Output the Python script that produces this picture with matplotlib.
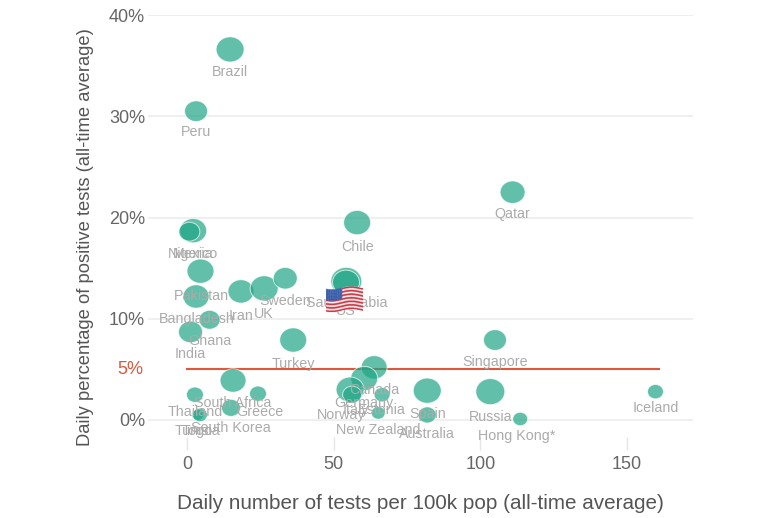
import matplotlib
matplotlib.use("Agg")
import numpy as np
import matplotlib.pyplot as plt
from matplotlib.path import Path
from matplotlib.transforms import Affine2D

plt.rcParams['font.family'] = ['Liberation Sans', 'DejaVu Sans']

# tests per 100k, percent positive, bubble width (px), label position
names = ["Brazil", "Peru", "Qatar", "Chile", "Mexico", "Nigeria", "Pakistan", "Bangladesh",
         "Iran", "UK", "Sweden", "Saudi Arabia", "US", "Ghana", "India", "Turkey", "Singapore",
         "Canada", "Germany", "Italy", "Norway", "Estonia", "New Zealand", "Spain", "Australia",
         "Russia", "Hong Kong*", "Iceland", "South Africa", "Greece", "Thailand", "South Korea",
         "Togo", "Tunisia"]
tests = [14.7, 3.1, 111, 58, 2.1, 0.8, 4.6, 3.1,
         18.4, 26.3, 33.5, 54.3, 54.2, 7.7, 1.2, 36.2, 105,
         63.8, 60.4, 55.6, 56.3, 66.5, 65.2, 81.9, 81.9,
         103.4, 113.6, 159.7, 15.7, 24.2, 2.7, 15.0,
         3.6, 4.4]
positive = [36.6, 30.5, 22.5, 19.5, 18.7, 18.6, 14.7, 12.2,
            12.7, 13.0, 14.0, 13.7, 13.6, 9.9, 8.7, 7.9, 7.9,
            5.2, 4.1, 3.0, 2.5, 2.5, 0.7, 2.9, 0.5,
            2.8, 0.1, 2.8, 3.9, 2.6, 2.5, 1.2,
            0.5, 0.5]
sizes = [28, 23, 25, 27, 27, 21, 27, 26,
         26, 28, 24, 31, 27, 21, 24, 27, 23,
         26, 27, 28, 19, 16, 14, 28, 18,
         29, 15, 16, 26, 17, 17, 19,
         12, 15]
label_x = [14.7, 3.1, 111, 58, 3.0, 1.2, 4.8, 3.3,
           18.4, 26.3, 33.5, 54.5, 54.2, 7.9, 1.2, 36.2, 105,
           63.8, 60.4, 57.5, 52.5, 66.5, 65.2, 81.9, 81.9,
           103.4, 112.5, 159.7, 15.7, 25, 2.7, 15.0,
           3.6, 3.6]
label_y = [34.35, 28.4, 20.3, 17.1, 16.4, 16.4, 12.2, 10.0,
           10.3, 10.5, 11.8, 11.55, 10.8, 7.8, 6.55, 5.5, 5.7,
           3.0, 1.65, 0.95, 0.5, 1.0, -1.0, 0.6, -1.4,
           0.25, -1.6, 1.15, 1.65, 0.8, 0.8, -0.8,
           -1.1, -1.1]

threshold_x = [0, 161]
threshold_y = [5, 5]
x_ticks = [0, 50, 100, 150]
y_ticks = [0, 10, 20, 30, 40]

W, H = 768, 518
fig = plt.figure(figsize=(W / 100, H / 100), dpi=100)
# axes placed by pixels: x 0 at 187, 150 at 627; y 0% at 420, 40% at 15
px_per_x = (627 - 187) / 150
px_per_y = (420 - 15) / 40
left, right, top, bottom = 148, 693, 15, 450
ax = fig.add_axes([left / W, 1 - bottom / H, (right - left) / W, (bottom - top) / H])
ax.set_xlim((left - 187) / px_per_x, (right - 187) / px_per_x)
ax.set_ylim((420 - bottom) / px_per_y, 40)

for s in ax.spines.values():
    s.set_visible(False)
ax.set_yticks(y_ticks)
ax.set_yticklabels(["%d%%" % v for v in y_ticks], fontsize=13, color="#666666")
ax.set_xticks(x_ticks)
ax.set_xticklabels(x_ticks, fontsize=13, color="#666666")
ax.tick_params(axis="y", length=0, pad=2)
ax.tick_params(axis="x", direction="in", length=9.4, width=1, color="#e6e6e6", pad=4)
ax.grid(True, axis="y", color="#efefef", linewidth=1.4)
ax.set_axisbelow(True)

# the red 5% line and its own tick label
ax.plot(threshold_x, threshold_y, color="#e0573a", linewidth=1.5, zorder=2)
ax.annotate("5%", (0, 5), xycoords=("axes fraction", "data"), xytext=(-3.6, 0),
            textcoords="offset points", ha="right", va="center", fontsize=13, color="#d9583b")

# bubbles are a little wider than tall in the original
oval = Path.unit_circle().transformed(Affine2D().scale(1.0, 0.9))
d = np.array(sizes) * 0.72
ax.scatter(tests, positive, s=d ** 2, marker=oval, color="#1fa686", alpha=0.7, edgecolor="white",
           linewidth=0.7, zorder=3)

for name, lx, ly in zip(names, label_x, label_y):
    ax.text(lx, ly, name, ha="center", va="center", fontsize=10.3, color="#ababab", zorder=4)

ax.set_xlabel("Daily number of tests per 100k pop (all-time average)", fontsize=14.9,
              color="#555555")
ax.xaxis.set_label_coords((420 - left) / (right - left), -(494 - bottom) / (bottom - top))
ax.set_ylabel("Daily percentage of positive tests (all-time average)", fontsize=13.2,
              color="#555555")
ax.yaxis.set_label_coords(-(left - 94) / (right - left), (bottom - 237) / (bottom - top))

# US flag sitting on top of the US bubble, waved stripes
flag = fig.add_axes([326 / W, 1 - 313 / H, 37 / W, 27 / H])
flag.set_axis_off()
u = np.linspace(0, 1, 148)
v = np.linspace(0, 1, 108)
uu, vv = np.meshgrid(u, v)
wave = 0.05 * np.sin(2 * np.pi * uu + 0.5) - 0.03 * (uu - 0.5)
fv = (vv - 0.06 - wave) / 0.86
img = np.ones((108, 148, 4))
img[:, :, :3] = (0.96, 0.93, 0.93)
stripe = np.floor(fv * 13).astype(int) % 2 == 0
img[stripe, :3] = (0.80, 0.22, 0.27)
canton = (uu < 0.44) & (fv < 0.5)
img[canton, :3] = (0.23, 0.37, 0.66)
dots = canton & (np.sin(uu * 110) > 0.75) & (np.sin(fv * 95) > 0.75)
img[dots, :3] = (0.80, 0.85, 0.95)
img[(fv < 0) | (fv > 1), 3] = 0
flag.imshow(img, aspect="auto", interpolation="antialiased")

fig.savefig("out.png", dpi=100)
